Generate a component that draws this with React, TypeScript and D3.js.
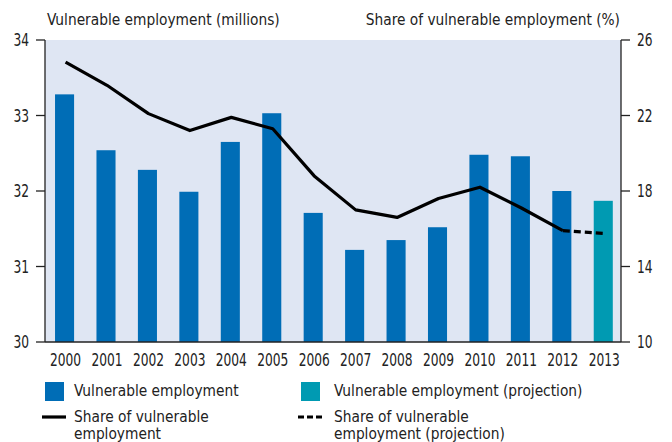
import React from "react";
import * as d3 from "d3";

const years = ["2000","2001","2002","2003","2004","2005","2006","2007","2008","2009","2010","2011","2012","2013"];
const employment = [33.28, 32.54, 32.28, 31.99, 32.65, 33.03, 31.71, 31.22, 31.35, 31.52, 32.48, 32.46, 32.0, 31.87];
const projectionYears = ["2013"];
const share = [24.83, 23.6, 22.1, 21.2, 21.9, 21.3, 18.8, 17.0, 16.6, 17.6, 18.2, 17.1, 15.9];
const shareProjection = [15.9, 15.75]; // 2012 -> 2013
const shareProjectionYears = ["2012", "2013"];
const leftTicks = [30, 31, 32, 33, 34];
const rightTicks = [10, 14, 18, 22, 26];

const W = 672, H = 442;
const plot = { left: 45, right: 621, top: 40, bottom: 342 };
const font = "'DejaVu Sans Condensed', 'DejaVu Sans', sans-serif";
const BAR = "#006db6";
const PROJ = "#009ab2";
const BG = "#dfe6f3";
const TXT = "#222";
const FS = 15.3;

function Tick({ x, y, anchor, children }: { x: number; y: number; anchor: "start" | "middle" | "end"; children: React.ReactNode }) {
  return (
    <text transform={`translate(${x},${y}) scale(0.8,1)`} textAnchor={anchor} fontFamily={font} fontSize={17} fill={TXT}>
      {children}
    </text>
  );
}

export default function App() {
  const x = d3.scaleBand<string>().domain(years).range([plot.left, plot.right]).paddingInner(0.54).paddingOuter(0.22).align(0.55);
  const yL = d3.scaleLinear().domain([30, 34]).range([plot.bottom, plot.top]);
  const yR = d3.scaleLinear().domain([10, 26]).range([plot.bottom, plot.top]);
  const cx = (yr: string) => (x(yr) as number) + x.bandwidth() / 2 + 1;
  const line = d3.line<[string, number]>().x(d => cx(d[0])).y(d => yR(d[1]));
  const solidPts: [string, number][] = share.map((v, i) => [years[i], v]);
  const dashPts: [string, number][] = shareProjection.map((v, i) => [shareProjectionYears[i], v]);

  return (
    <svg width={W} height={H} style={{ position: "absolute", left: 0, top: 0 }}>
      <rect x={0} y={0} width={W} height={H} fill="#fff" />
      <rect x={plot.left} y={plot.top} width={plot.right - plot.left} height={plot.bottom - plot.top} fill={BG} />
      {years.map((yr, i) => (
        <rect key={yr} x={x(yr)} y={yL(employment[i])} width={x.bandwidth()} height={plot.bottom - yL(employment[i])}
          fill={projectionYears.includes(yr) ? PROJ : BAR} />
      ))}
      <path d={line(solidPts) || ""} fill="none" stroke="#000" strokeWidth={3.2} strokeLinejoin="round" />
      <path d={line(dashPts) || ""} fill="none" stroke="#000" strokeWidth={3.2} strokeDasharray="7,4" />
      <line x1={plot.left} x2={plot.left} y1={plot.top} y2={plot.bottom} stroke={TXT} strokeWidth={1.3} />
      <line x1={plot.right} x2={plot.right} y1={plot.top} y2={plot.bottom} stroke={TXT} strokeWidth={1.3} />
      <line x1={plot.left} x2={plot.right} y1={plot.bottom} y2={plot.bottom} stroke={TXT} strokeWidth={1.3} />
      {leftTicks.map(t => (
        <g key={"l" + t}>
          <line x1={36} x2={plot.left} y1={yL(t)} y2={yL(t)} stroke={TXT} strokeWidth={1.3} />
          <Tick x={29} y={yL(t) + 6} anchor="end">{t}</Tick>
        </g>
      ))}
      {rightTicks.map(t => (
        <g key={"r" + t}>
          <line x1={plot.right} x2={630} y1={yR(t)} y2={yR(t)} stroke={TXT} strokeWidth={1.3} />
          <Tick x={637} y={yR(t) + 6} anchor="start">{t}</Tick>
        </g>
      ))}
      {years.map(yr => (
        <Tick key={"x" + yr} x={cx(yr)} y={366} anchor="middle">{yr}</Tick>
      ))}
      <text x={47} y={25} fontFamily={font} fontSize={FS} fill={TXT}>Vulnerable employment (millions)</text>
      <text x={620} y={25} textAnchor="end" fontFamily={font} fontSize={FS} fill={TXT}>Share of vulnerable employment (%)</text>
      <rect x={45} y={382} width={19} height={19} fill={BAR} />
      <text x={74} y={396} fontFamily={font} fontSize={FS} fill={TXT}>Vulnerable employment</text>
      <rect x={301} y={382} width={19} height={19} fill={PROJ} />
      <text x={334} y={396} fontFamily={font} fontSize={FS} fill={TXT}>Vulnerable employment (projection)</text>
      <line x1={42} x2={66} y1={417} y2={417} stroke="#000" strokeWidth={3.2} />
      <text x={74} y={422} fontFamily={font} fontSize={FS} fill={TXT}>
        <tspan x={74}>Share of vulnerable</tspan>
        <tspan x={74} dy={16.5}>employment</tspan>
      </text>
      <line x1={298} x2={322} y1={417} y2={417} stroke="#000" strokeWidth={3.2} strokeDasharray="6,3" />
      <text x={334} y={422} fontFamily={font} fontSize={FS} fill={TXT}>
        <tspan x={334}>Share of vulnerable</tspan>
        <tspan x={334} dy={16.5}>employment (projection)</tspan>
      </text>
    </svg>
  );
}
